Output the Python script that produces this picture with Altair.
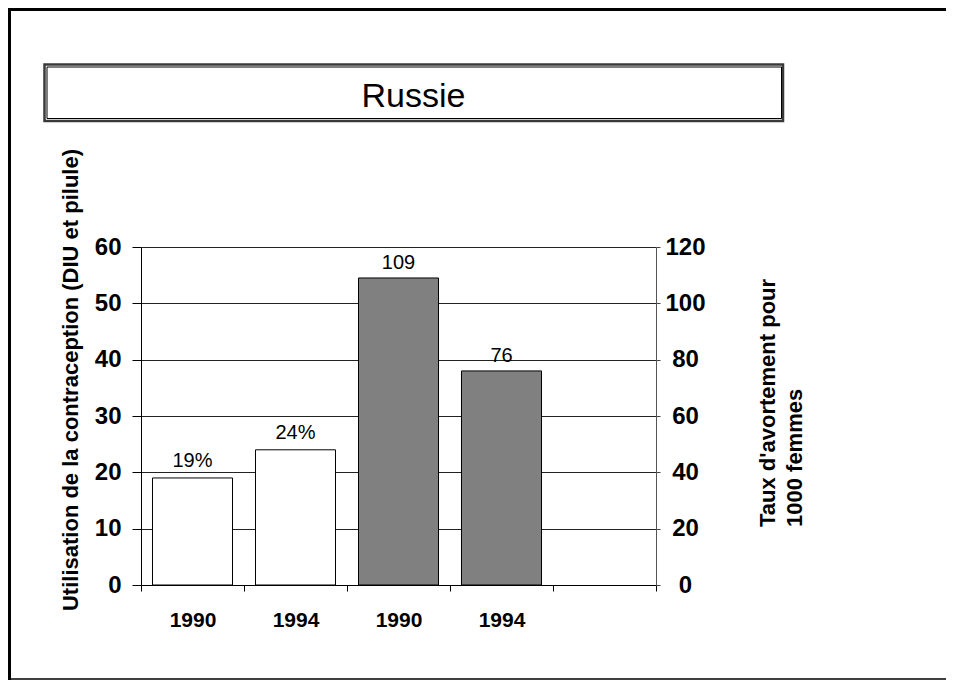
import altair as alt
import pandas as pd

# ---- data ----
slots = ["s1", "s2", "s3", "s4", "s5"]
slot_labels = ["1990", "1994", "1990", "1994", ""]

contra_slots = ["s1", "s2"]
contra_values = [19, 24]
contra_text = ["19%", "24%"]

abort_slots = ["s3", "s4"]
abort_values = [109, 76]
abort_text = ["109", "76"]

left_ticks = [0, 10, 20, 30, 40, 50, 60]
right_ticks = [0, 20, 40, 60, 80, 100, 120]

chart_title = "Russie"
left_title = "Utilisation de la contraception (DIU et pilule)"
right_title = ["Taux d'avortement pour", "1000 femmes"]

FONT = "Liberation Sans"

df_left = pd.DataFrame({"slot": contra_slots, "value": contra_values, "label": contra_text})
df_right = pd.DataFrame({"slot": abort_slots, "value": abort_values, "label": abort_text})
df_one = pd.DataFrame({"k": [0]})

W, H = 515, 338
BAR_FRAC = 0.777

label_expr = "[" + ",".join(f"'{l}'" for l in slot_labels) + "][indexof([" + \
    ",".join(f"'{s}'" for s in slots) + "], datum.value)]"

x_enc = alt.X(
    "slot:N",
    scale=alt.Scale(domain=slots, paddingInner=0, paddingOuter=0),
    axis=alt.Axis(
        title=None, labelExpr=label_expr, labelAngle=0, labelFont=FONT,
        labelFontSize=21, labelFontWeight="bold", labelColor="#000",
        tickBand="extent", tickSize=6, tickColor="#000", domainColor="#000",
        labelPadding=35, labelBaseline="alphabetic", grid=False,
    ),
)

y_left = alt.Y(
    "value:Q",
    scale=alt.Scale(domain=[0, 60], nice=False),
    axis=alt.Axis(
        values=left_ticks, title=None, orient="left", grid=True, gridColor="#222",
        tickSize=9, tickColor="#000", domainColor="#000", labelPadding=11,
        labelFont=FONT, labelFontSize=24, labelFontWeight="bold", labelColor="#000",
    ),
)

y_right = alt.Y(
    "value:Q",
    scale=alt.Scale(domain=[0, 120], nice=False),
    axis=alt.Axis(
        values=right_ticks, title=None, orient="right", grid=False,
        tickSize=4, tickColor="#444", domainColor="#555", labelPadding=25,
        labelAlign="center", labelFont=FONT, labelFontSize=24,
        labelFontWeight="bold", labelColor="#000",
    ),
)

bars_left = alt.Chart(df_left).mark_bar(
    fill="white", stroke="#000", strokeWidth=1, width=alt.RelativeBandSize(BAR_FRAC)
).encode(x=x_enc, y=y_left)
text_left = alt.Chart(df_left).mark_text(
    font=FONT, fontSize=20, color="#000", baseline="alphabetic", dy=-11
).encode(x=x_enc, y=y_left, text="label:N")
left_group = alt.layer(bars_left, text_left)

bars_right = alt.Chart(df_right).mark_bar(
    fill="#808080", stroke="#000", strokeWidth=1, width=alt.RelativeBandSize(BAR_FRAC)
).encode(x=x_enc, y=y_right)
text_right = alt.Chart(df_right).mark_text(
    font=FONT, fontSize=20, color="#000", baseline="alphabetic", dy=-9
).encode(x=x_enc, y=y_right, text="label:N")
right_group = alt.layer(bars_right, text_right)

base = alt.Chart(df_one)

# frame
frame_top = base.mark_rule(color="#000", strokeWidth=4).encode(
    x=alt.value(-134), x2=alt.value(805), y=alt.value(-238))
frame_left = base.mark_rule(color="#000", strokeWidth=4).encode(
    x=alt.value(-132), y=alt.value(-241), y2=alt.value(433))
frame_bottom = base.mark_rule(color="#000", strokeWidth=1.5).encode(
    x=alt.value(-134), x2=alt.value(805), y=alt.value(432))

# title box (double border)
box_outer = base.mark_rect(fillOpacity=0, stroke="#3a3a3a", strokeWidth=2.5).encode(
    x=alt.value(-96.5), x2=alt.value(642), y=alt.value(-182.5), y2=alt.value(-126))
box_inner = base.mark_rect(fillOpacity=0, stroke="#000", strokeWidth=1).encode(
    x=alt.value(-94), x2=alt.value(640.5), y=alt.value(-180), y2=alt.value(-128.5))
title_text = base.mark_text(
    text=chart_title, font=FONT, fontSize=34, color="#000", align="center", baseline="alphabetic"
).encode(x=alt.value(272.5), y=alt.value(-140))

left_title_text = base.mark_text(
    text=left_title, font=FONT, fontSize=22, fontWeight="bold", color="#000",
    angle=270, align="center", baseline="alphabetic"
).encode(x=alt.value(-63), y=alt.value(133))

right_title_text = base.mark_text(
    text=right_title, font=FONT, fontSize=22, fontWeight="bold", color="#000",
    angle=270, align="left", baseline="alphabetic", lineHeight=27
).encode(x=alt.value(634), y=alt.value(280))

deco = alt.layer(frame_top, frame_left, frame_bottom, box_outer, box_inner,
                 title_text, left_title_text, right_title_text)

chart = alt.layer(left_group, right_group, deco).resolve_scale(y="independent").properties(
    width=W, height=H,
    autosize=alt.AutoSizeParams(type="none"),
    padding={"left": 133, "top": 239, "right": 290, "bottom": 96},
).configure_view(strokeWidth=0).configure(background="white")

chart.save("out.html", embed_options={"renderer": "svg", "actions": False})
